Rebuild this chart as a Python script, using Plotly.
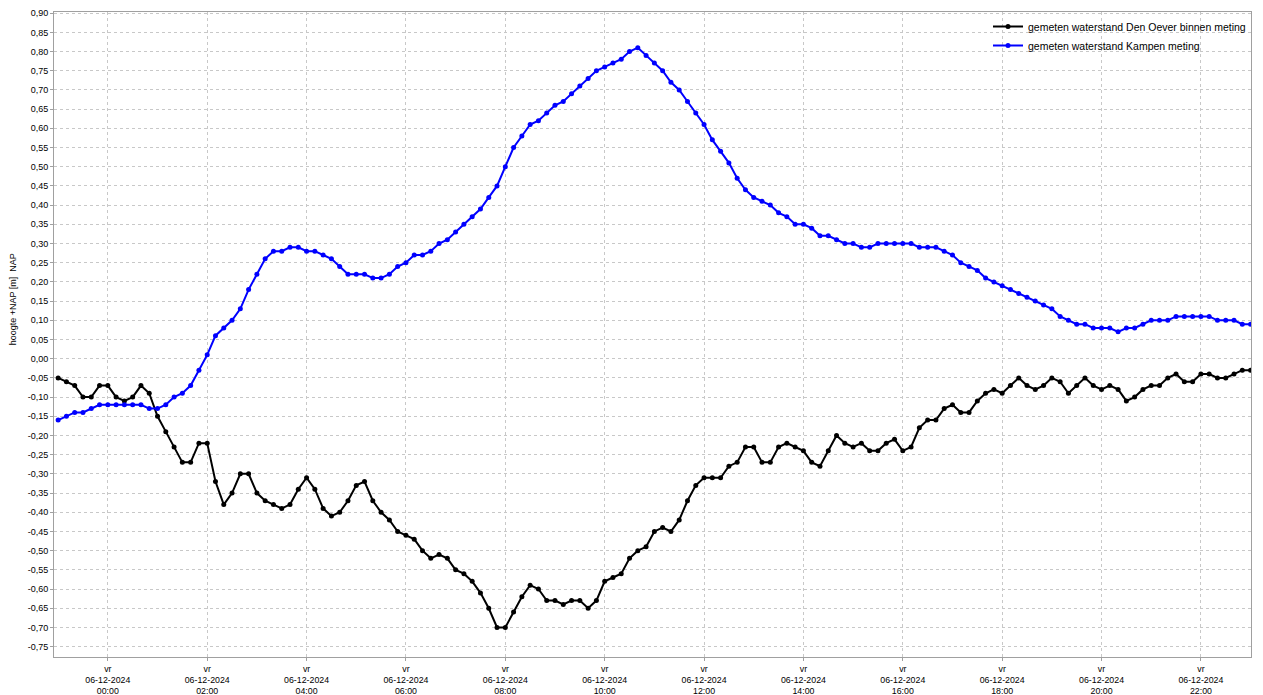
import plotly.graph_objects as go
import pandas as pd

# meetmomenten: elke 10 minuten, 05-12-2024 23:00 t/m 06-12-2024 23:00
tijden = pd.date_range("2024-12-05 23:00", periods=145, freq="10min")

# gemeten waterstand Den Oever binnen (m t.o.v. NAP)
den_oever = [
    -0.05, -0.06, -0.07, -0.10, -0.10, -0.07, -0.07, -0.10, -0.11, -0.10, -0.07, -0.09, -0.15,
    -0.19, -0.23, -0.27, -0.27, -0.22, -0.22, -0.32, -0.38, -0.35, -0.30, -0.30, -0.35, -0.37,
    -0.38, -0.39, -0.38, -0.34, -0.31, -0.34, -0.39, -0.41, -0.40, -0.37, -0.33,
    -0.32, -0.37, -0.40, -0.42, -0.45, -0.46, -0.47, -0.50, -0.52, -0.51, -0.52, -0.55, -0.56,
    -0.58, -0.61, -0.65, -0.70, -0.70, -0.66, -0.62, -0.59, -0.60, -0.63,
    -0.63, -0.64, -0.63, -0.63, -0.65, -0.63, -0.58, -0.57, -0.56, -0.52, -0.50, -0.49, -0.45,
    -0.44, -0.45, -0.42, -0.37, -0.33, -0.31, -0.31, -0.31, -0.28, -0.27,
    -0.23, -0.23, -0.27, -0.27, -0.23, -0.22, -0.23, -0.24, -0.27, -0.28, -0.24, -0.20, -0.22,
    -0.23, -0.22, -0.24, -0.24, -0.22, -0.21, -0.24, -0.23, -0.18, -0.16,
    -0.16, -0.13, -0.12, -0.14, -0.14, -0.11, -0.09, -0.08, -0.09, -0.07, -0.05, -0.07, -0.08,
    -0.07, -0.05, -0.06, -0.09, -0.07, -0.05, -0.07,
    -0.08, -0.07, -0.08, -0.11, -0.10, -0.08, -0.07, -0.07, -0.05, -0.04, -0.06, -0.06, -0.04,
    -0.04, -0.05, -0.05, -0.04, -0.03, -0.03,
]

# gemeten waterstand Kampen (m t.o.v. NAP)
kampen = [
    -0.16, -0.15, -0.14, -0.14, -0.13, -0.12, -0.12, -0.12, -0.12, -0.12, -0.12, -0.13, -0.13,
    -0.12, -0.10, -0.09, -0.07, -0.03, 0.01, 0.06, 0.08, 0.10, 0.13, 0.18, 0.22, 0.26,
    0.28, 0.28, 0.29, 0.29, 0.28, 0.28, 0.27, 0.26, 0.24, 0.22, 0.22,
    0.22, 0.21, 0.21, 0.22, 0.24, 0.25, 0.27, 0.27, 0.28, 0.30, 0.31, 0.33, 0.35,
    0.37, 0.39, 0.42, 0.45, 0.50,
    0.55, 0.58, 0.61, 0.62,
    0.64, 0.66, 0.67, 0.69, 0.71, 0.73, 0.75, 0.76, 0.77, 0.78, 0.80, 0.81, 0.79,
    0.77, 0.75, 0.72, 0.70, 0.67, 0.64, 0.61, 0.57, 0.54, 0.51, 0.47,
    0.44, 0.42, 0.41, 0.40, 0.38, 0.37, 0.35, 0.35, 0.34, 0.32, 0.32, 0.31, 0.30,
    0.30, 0.29, 0.29, 0.30, 0.30, 0.30, 0.30, 0.30, 0.29, 0.29,
    0.29, 0.28, 0.27, 0.25, 0.24, 0.23, 0.21, 0.20, 0.19, 0.18, 0.17, 0.16, 0.15,
    0.14, 0.13, 0.11, 0.10, 0.09, 0.09, 0.08,
    0.08, 0.08, 0.07, 0.08, 0.08, 0.09, 0.10, 0.10, 0.10, 0.11, 0.11, 0.11, 0.11,
    0.11, 0.10, 0.10, 0.10, 0.09, 0.09,
]

# as-labels
x_ticks = pd.date_range("2024-12-06 00:00", "2024-12-06 22:00", freq="2h")
x_labels = ["vr<br>06-12-2024<br>" + t.strftime("%H:%M") for t in x_ticks]
y_ticks = [round(-0.75 + 0.05 * k, 2) for k in range(34)]
y_labels = [f"{v:.2f}".replace(".", ",").replace("-0,00", "0,00") for v in y_ticks]

FONT = "Liberation Sans"
GRID = "#c8c8c8"
AXIS = "#a0a0a0"

fig = go.Figure()
fig.add_trace(go.Scatter(
    x=tijden, y=den_oever, mode="lines+markers",
    name="gemeten waterstand Den Oever binnen meting",
    line=dict(color="#000000", width=2),
    marker=dict(color="#000000", size=5),
))
fig.add_trace(go.Scatter(
    x=tijden, y=kampen, mode="lines+markers",
    name="gemeten waterstand Kampen meting",
    line=dict(color="#0000ff", width=2),
    marker=dict(color="#0000ff", size=5),
))

fig.update_layout(
    width=1263, height=695,
    margin=dict(l=54, r=12, t=12, b=38),
    paper_bgcolor="white", plot_bgcolor="white",
    font=dict(family=FONT, size=9, color="#000000"),
    showlegend=True,
    legend=dict(
        x=1.0, xanchor="right", y=1.0, yanchor="top",
        bgcolor="rgba(255,255,255,0)", font=dict(size=10.5),
        itemwidth=30, tracegroupgap=0,
    ),
)

fig.update_xaxes(
    type="date",
    range=["2024-12-05 22:55", "2024-12-06 23:00:30"],
    tickmode="array", tickvals=x_ticks, ticktext=x_labels,
    ticks="outside", ticklen=3, tickcolor=AXIS,
    tickfont=dict(size=8.8),
    showgrid=True, gridcolor=GRID, griddash="dot", gridwidth=1,
    showline=True, linecolor=AXIS, linewidth=1, mirror=True,
    zeroline=False, automargin=False,
)
fig.update_yaxes(
    range=[-0.777, 0.903],
    tickmode="array", tickvals=y_ticks, ticktext=y_labels,
    ticks="outside", ticklen=3, tickcolor=AXIS,
    showgrid=True, gridcolor=GRID, griddash="dot", gridwidth=1,
    showline=True, linecolor=AXIS, linewidth=1, mirror=True,
    zeroline=False, automargin=False,
)

fig.add_annotation(
    text="hoogte +NAP [m]  NAP", textangle=-90,
    xref="paper", yref="paper", x=-0.034, y=0.555,
    xanchor="center", yanchor="middle", showarrow=False,
    font=dict(size=9),
)

# standaard body-marge van de browser weghalen zodat de figuur precies in het venster past
fig.write_html("out.html", config={"displayModeBar": False},
               post_script="document.body.style.margin='0';")
